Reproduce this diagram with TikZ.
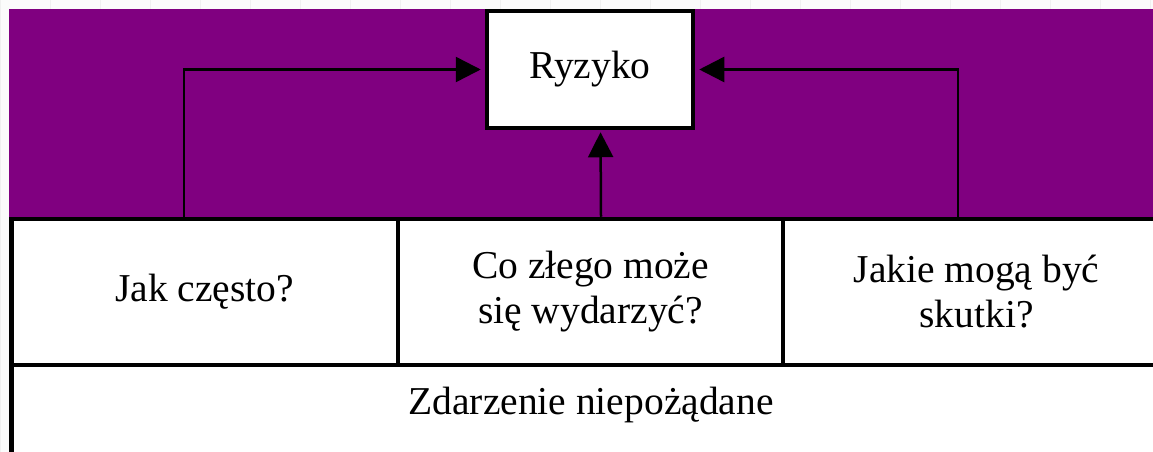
\documentclass[tikz,border=0pt]{standalone}
\usepackage{fontspec}
\setmainfont{Liberation Serif}
\usepackage{xcolor}
\usetikzlibrary{arrows.meta,positioning}
\definecolor{riskpurple}{HTML}{800080}

\begin{document}
\begin{tikzpicture}[x=1pt, y=-1pt,
  font=\fontsize{39.5}{45}\selectfont,
  cell/.style={draw, fill=white, line width=4.5pt, align=center, inner sep=0pt},
  link/.style={draw, line width=2.5pt, -{Triangle[length=25pt,width=25pt]}}]
  \useasboundingbox (0,0) rectangle (1153,452);
  \fill[white!97!gray] (0,0) rectangle (1153,452);
  \draw[gray!12, line width=1pt, xstep=50, ystep=50] (-7,-18) grid (1153,452);
  \fill[riskpurple] (9,9) rectangle (1160,219);
  % bottom row
  \draw[fill=white, line width=4.5pt] (11.5,365) rectangle (1170,480);
  \node (event) at (591,405) {Zdarzenie niepożądane};
  % middle row: three questions
  \node[cell, minimum width=386.5, minimum height=146] (often)  at (204.75,292) {Jak często?};
  \node[cell, minimum width=385,   minimum height=146] (cause)  at (590.5,292)  {Co złego może\\się wydarzyć?};
  \node[cell, minimum width=387,   minimum height=146] (effect) at (976.5,292)  {Jakie mogą być\\skutki?};
  % top
  \node[cell, minimum width=206, minimum height=117] (risk) at (590,69.5) {Ryzyko};
  \draw[link, shorten >=4pt] ([xshift=-21pt]often.north) |- (risk.west);
  \draw[link, shorten >=2pt] ([xshift=10.5pt]cause.north) -- ([xshift=10.5pt]risk.south);
  \draw[link, shorten >=4pt] ([xshift=-18.5pt]effect.north) |- (risk.east);
\end{tikzpicture}
\end{document}
